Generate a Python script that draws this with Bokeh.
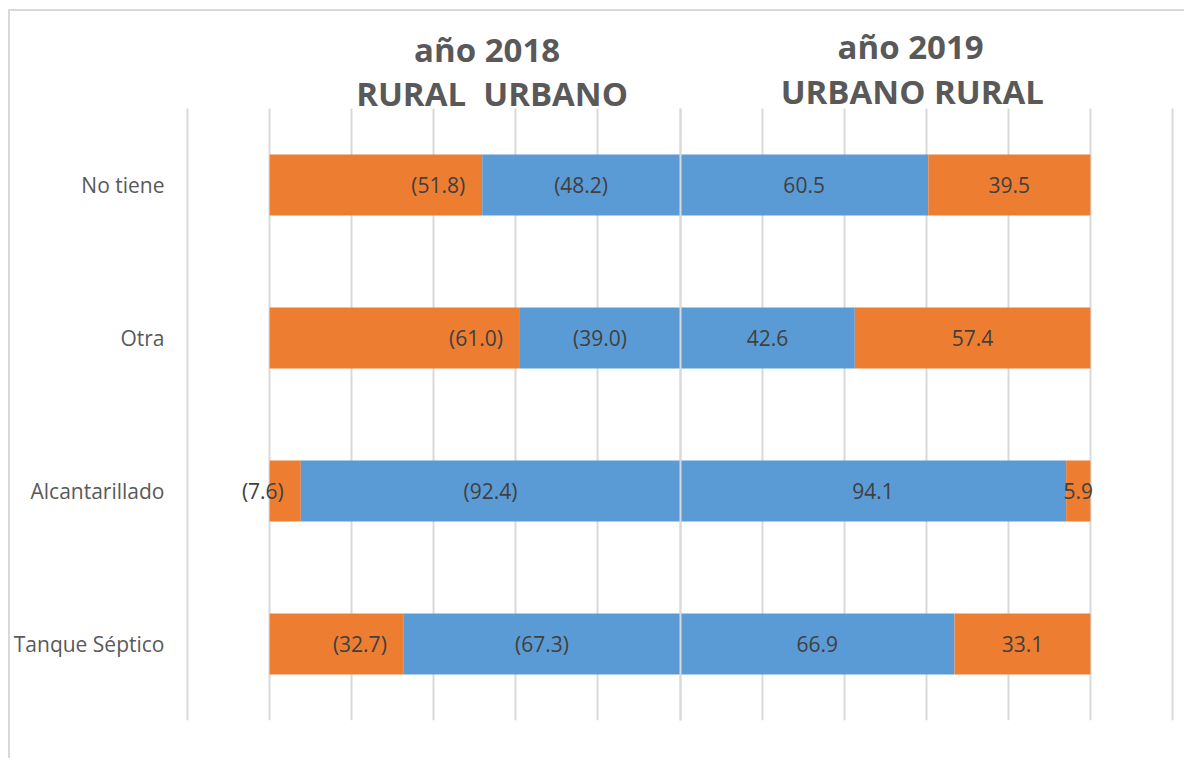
from bokeh.plotting import figure
from bokeh.models import ColumnDataSource, Range1d, FixedTicker, Grid
from bokeh.core.properties import value
from bokeh.embed import file_html
from bokeh.resources import INLINE

# ---- data ----
categories = ["No tiene", "Otra", "Alcantarillado", "Tanque Séptico"]
rural_2018 = [51.8, 61.0, 7.6, 32.7]
urbano_2018 = [48.2, 39.0, 92.4, 67.3]
urbano_2019 = [60.5, 42.6, 94.1, 66.9]
rural_2019 = [39.5, 57.4, 5.9, 33.1]
grid_ticks = list(range(-120, 121, 20))
title_lines = ["año 2018", "RURAL\u00a0 URBANO", "año 2019", "URBANO RURAL"]

ORANGE = "#ED7D31"
BLUE = "#5B9BD5"
FONT = "Open Sans"

n = len(categories)
ypos = [n - i - 0.5 for i in range(n)]   # first category on top

# 2018 plotted to the left (negative), 2019 to the right
u18_left = [-u for u in urbano_2018]
u18_right = [0.0] * n
r18_right = u18_left
r18_left = [-(u + r) for u, r in zip(urbano_2018, rural_2018)]
u19_left = [0.0] * n
u19_right = list(urbano_2019)
r19_left = list(urbano_2019)
r19_right = [u + r for u, r in zip(urbano_2019, rural_2019)]

src = ColumnDataSource(dict(
    y=ypos,
    u18_left=u18_left, u18_right=u18_right,
    r18_left=r18_left, r18_right=r18_right,
    u19_left=u19_left, u19_right=u19_right,
    r19_left=r19_left, r19_right=r19_right,
    u18_mid=[(a + b) / 2 for a, b in zip(u18_left, u18_right)],
    u19_mid=[(a + b) / 2 for a, b in zip(u19_left, u19_right)],
    r19_mid=[(a + b) / 2 for a, b in zip(r19_left, r19_right)],
    u18_txt=["(%.1f)" % v for v in urbano_2018],
    r18_txt=["(%.1f)" % v for v in rural_2018],
    u19_txt=["%.1f" % v for v in urbano_2019],
    r19_txt=["%.1f" % v for v in rural_2019],
))

p = figure(width=1176, height=749,
           x_range=Range1d(-120.5, 120.5), y_range=Range1d(0, 4.634),
           output_backend="svg", toolbar_location=None,
           x_axis_location=None,
           min_border_left=174, min_border_right=12,
           min_border_top=0, min_border_bottom=40)
p.outline_line_color = None

p.xgrid.ticker = FixedTicker(ticks=grid_ticks)
p.xgrid.grid_line_color = "#d9d9d9"
p.xgrid.grid_line_width = 2
p.xgrid.cross_bounds = (0, n)
p.ygrid.visible = False

ax = p.yaxis[0]
ax.ticker = FixedTicker(ticks=ypos)
ax.major_label_overrides = {y: c for y, c in zip(ypos, categories)}
ax.axis_line_color = None
ax.major_tick_line_color = None
ax.minor_tick_line_color = None
ax.major_tick_out = 0
ax.major_tick_in = 0
ax.major_label_standoff = 21
ax.major_label_text_font = FONT
ax.major_label_text_font_size = "21px"
ax.major_label_text_color = "#595959"

H = 0.4
p.hbar(y="y", left="r18_left", right="r18_right", height=H, source=src,
       fill_color=ORANGE, line_color=None)
p.hbar(y="y", left="u18_left", right="u18_right", height=H, source=src,
       fill_color=BLUE, line_color=None)
p.hbar(y="y", left="u19_left", right="u19_right", height=H, source=src,
       fill_color=BLUE, line_color=None)
p.hbar(y="y", left="r19_left", right="r19_right", height=H, source=src,
       fill_color=ORANGE, line_color=None)

# zero line drawn on top of bars
zero = Grid(dimension=0, ticker=FixedTicker(ticks=[0]), cross_bounds=(0, n),
            grid_line_color="#d9d9d9", grid_line_width=2, level="overlay")
p.add_layout(zero)

lbl = dict(text_font=value(FONT), text_font_size="21px", text_color="#404040",
           text_baseline="middle")
p.text(x="r18_right", y="y", text="r18_txt", text_align="right", x_offset=-17,
       source=src, **lbl)
p.text(x="u18_mid", y="y", text="u18_txt", text_align="center", source=src, **lbl)
p.text(x="u19_mid", y="y", text="u19_txt", text_align="center", source=src, **lbl)
p.text(x="r19_mid", y="y", text="r19_txt", text_align="center", source=src, **lbl)

# titles above the bars
tsrc = ColumnDataSource(dict(
    x=[-47.0, -45.8, 56.2, 56.6],
    y=[4.386, 4.095, 4.408, 4.114],
    text=title_lines,
))
p.text(x="x", y="y", text="text", source=tsrc, text_font=value(FONT),
       text_font_style="bold", text_font_size="33px", text_color="#595959",
       text_align="center", text_baseline="alphabetic")

p.styles = {"border-top": "2px solid #d9d9d9", "border-left": "2px solid #d9d9d9",
            "margin-left": "8px", "margin-top": "9px"}

open("out.html", "w").write(file_html(p, INLINE))
